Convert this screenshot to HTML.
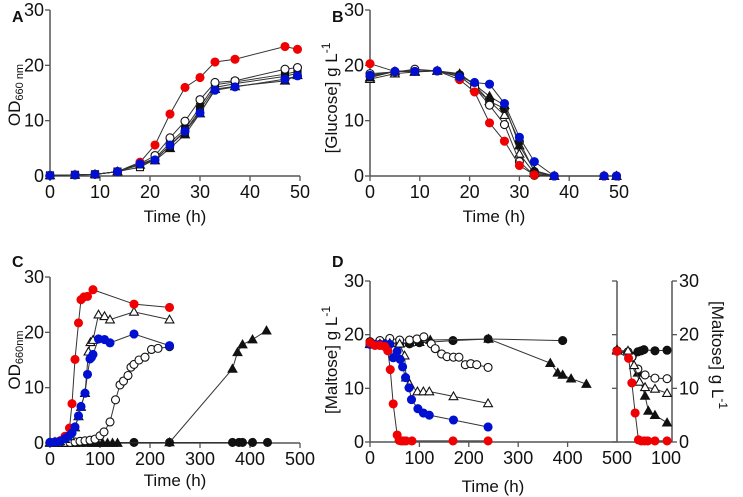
<!DOCTYPE html>
<html><head><meta charset="utf-8">
<style>
html,body{margin:0;padding:0;background:#fff;}
svg{display:block;font-family:"Liberation Sans",Arial,sans-serif;}
.tl{font-size:18px;fill:#111;}
.ti{font-size:17px;fill:#111;}
.pl{font-size:16px;font-weight:bold;fill:#111;}
</style></head>
<body>
<svg id="chart" width="743" height="497" viewBox="0 0 743 497" xmlns="http://www.w3.org/2000/svg"></svg>
<script>
// ---------- Panel A data (OD vs time, h) ----------
const aTimes = [0,5,9,13.5,18,21,24,27,30,33,37,47,49.5];
const aRed   = [0.1,0.2,0.3,0.8,2.5,5.6,11.2,16,17.8,20.6,21.1,23.4,22.9];
const aOpenC = [0.1,0.2,0.3,0.8,2.2,3.7,6.9,9.9,13.8,16.9,17.2,19.3,19.6];
const aFillS = [0.1,0.2,0.3,0.8,2.1,3.2,6.0,8.5,12.5,16.5,17.0,18.4,18.9];
const aOpenS = [0.1,0.2,0.3,0.8,1.6,3.0,5.5,8.0,12.0,16.0,16.7,18.0,18.6];
const aFillT = [0.1,0.2,0.3,0.8,2.0,2.8,5.0,7.5,11.3,15.7,16.2,17.2,18.2];
const aBlue  = [0.1,0.2,0.3,0.8,2.2,2.9,5.6,8.1,11.4,15.5,16.1,17.5,18.1];
// ---------- Panel B data (glucose g/L) ----------
const bTimes = [0,5,9,13.5,18,21,24,27,30,33,37,47,49.5];
const bRed   = [20.3,18.9,18.9,19.0,17.4,15.2,9.6,6.3,1.9,0.2,0,0,0];
const bOpenC = [18.5,18.8,19.3,19.0,18.0,16.0,12.8,9.3,2.6,0.1,0,0,0];
const bFillC = [18.0,18.9,19.0,19.0,18.3,16.5,13.5,12.2,6.2,0.8,0,0,0];
const bFillT = [17.8,18.9,18.9,19.0,18.5,16.5,14.4,12.8,5.5,1.0,0,0,0];
const bOpenT = [17.5,18.5,18.8,19.0,18.0,16.0,13.5,11.0,4.0,0.5,0,0,0];
const bBlue  = [18.2,18.9,18.9,19.0,17.9,16.9,16.6,13.1,7.0,2.6,0,0,0];
// ---------- Panel C data (OD, long time) ----------
const cRedT  = [0,10,20,30,39,44,50,57,62,68,75,86,168,239];
const cRedV  = [0.1,0.2,0.4,1.2,2.7,7.1,15.1,21.7,25.9,26.4,26.5,27.7,25.1,24.5];
const cBlueT = [0,10,20,30,37,44,50,57,62,70,75,80,83,86,97,109,120,168,239];
const cBlueV = [0.1,0.2,0.3,0.8,1.2,1.8,2.9,4.9,6.6,9.0,12.4,15.2,15.5,16.0,18.8,18.7,18.1,19.7,17.6];
const cOTriT = [0,10,20,30,40,50,57,62,70,77,81,86,97,109,120,168,239];
const cOTriV = [0.1,0.2,0.3,0.7,1.2,2.8,4.8,6.5,9.0,16.5,18.2,18.6,23.2,22.9,22.3,23.7,22.3];
const cOCirT = [0,10,20,30,40,50,60,70,80,90,100,108,120,131,140,147,156,162,168,178,190,203,216,239];
const cOCirV = [0.1,0.1,0.1,0.1,0.1,0.2,0.3,0.4,0.5,0.7,1.3,2.0,3.8,7.8,10.5,11.2,12.2,13.7,14.2,15.0,15.5,16.9,17.1,17.4];
const cFTriT = [0,10,20,30,40,50,60,75,85,95,105,115,125,135,239,365,375,385,405,433];
const cFTriV = [0,0,0,0,0,0,0,0,0,0,0,0,0,0,0.1,13.4,16.4,17.8,18.7,20.3];
const cFCirT = [0,10,20,30,40,50,168,239,365,378,385,405,435];
const cFCirV = [0.1,0.1,0.1,0.1,0.1,0.1,0.1,0.1,0.1,0.1,0.1,0.1,0.1];
// ---------- Panel D data (maltose g/L) ----------
const dRedT  = [0,10,20,30,36,41,47,55,59,63,68,73,85,168,239];
const dRedV  = [18.5,18.0,18.0,17.8,17.0,13.5,7.1,1.3,0.3,0.2,0.2,0.2,0.2,0.2,0.2];
const dBlueT = [0,10,20,30,40,47,55,61,66,72,79,84,97,108,120,169,239];
const dBlueV = [18.2,18.2,18.2,18.2,18.2,15.7,16.9,15.4,14.0,12.0,10.1,7.9,6.2,5.4,5.0,4.1,2.8];
const dOTriT = [0,20,40,60,70,73,80,96,108,120,169,239];
const dOTriV = [18.2,18.3,18.4,18.3,16.1,12.0,10.8,9.4,9.4,9.4,8.5,7.2];
const dOCirT = [0,20,40,60,80,95,109,124,132,145,156,169,180,193,204,216,239];
const dOCirV = [18.7,18.9,19.3,19.0,19.0,19.2,19.6,18.3,17.4,16.4,15.9,15.8,15.8,14.4,14.6,14.4,13.9];
const dFTriT = [0,20,40,60,80,100,122,240,365,380,390,407,438];
const dFTriV = [18.3,18.4,18.5,18.4,18.5,18.6,19.0,19.2,14.7,12.9,12.5,11.8,10.8];
const dFCirT = [0,20,40,60,80,100,168,239,390];
const dFCirV = [18.3,18.3,18.3,18.3,18.3,18.5,18.9,19.2,18.9];
// ---------- Panel D inset (0-100 h) ----------
const eRedT  = [0,21,27,33,39,44,50,56,69,91];
const eRedV  = [16.9,15.6,11.0,5.4,0.4,0.2,0.2,0.2,0.2,0.2];
const eOCirT = [0,20,27,38,51,69,91];
const eOCirV = [17.0,16.8,15.8,13.6,12.5,11.9,11.8];
const eOTriT = [0,20,31,41,51,69,91];
const eOTriV = [17.0,17.0,14.3,11.2,10.2,9.9,9.1];
const eFTriT = [0,25,38,51,57,69,91];
const eFTriV = [17.2,16.0,12.9,8.6,5.8,5.0,3.6];
const eFCirT = [0,28,38,44,49,69,91];
const eFCirV = [17.0,16.0,16.8,17.0,17.2,17.0,17.1];

const NS = "http://www.w3.org/2000/svg";
const svg = document.getElementById('chart');
function mk(tag, attrs, parent){
  const e = document.createElementNS(NS, tag);
  for (const k in attrs) e.setAttribute(k, attrs[k]);
  (parent||svg).appendChild(e);
  return e;
}
const RED="#f00000", BLUE="#0010d0", AX="#555";

function scale(d0,d1,p0,p1){ return v => p0 + (v-d0)*(p1-p0)/(d1-d0); }

function marker(g, kind, color, x, y){
  let e;
  const r=4;
  if (kind==='fc' || kind==='oc'){
    e = mk('circle',{cx:x,cy:y,r:r,fill:kind==='fc'?color:'#fff',stroke:kind==='fc'?color:'#111','stroke-width':1.1},g);
  } else if (kind==='ft' || kind==='ot'){
    const s=4.4;
    e = mk('polygon',{points:`${x},${y-s} ${x-s},${y+s*0.75} ${x+s},${y+s*0.75}`,fill:kind==='ft'?'#111':'#fff',stroke:'#111','stroke-width':1.1},g);
  } else {
    const s=3.5;
    e = mk('rect',{x:x-s,y:y-s,width:2*s,height:2*s,fill:kind==='fs'?'#111':'#fff',stroke:'#111','stroke-width':1.1},g);
  }
  
  
}

function series(name, xs, ys, sx, sy, kind, color){
  const g = mk('g',{});
  
  
  const pts = xs.map((t,i)=>sx(t)+','+sy(ys[i])).join(' ');
  const pl = mk('polyline',{points:pts,fill:'none',stroke:'#333','stroke-width':1},g);
  
  
  xs.forEach((t,i)=>marker(g, kind, color||'#111', sx(t), sy(ys[i])));
}

function text(str, x, y, cls, anchor, name, extra){
  const t = mk('text',Object.assign({x:x,y:y,class:cls,'text-anchor':anchor||'middle'},extra||{}));
  t.textContent = str;
  
  
  return t;
}

function axes(prefix, x0,x1,y0,y1, xTicks, xLab, yTicks, yLab, sx, sy){
  const ax = mk('line',{x1:x0,y1:y0,x2:x1,y2:y0,stroke:AX,'stroke-width':1.5});
  
  
  const ay = mk('line',{x1:x0,y1:y0,x2:x0,y2:y1,stroke:AX,'stroke-width':1.5});
  
  
  xTicks.forEach((v,i)=>{
    const x = sx(v);
    mk('line',{x1:x,y1:y0,x2:x,y2:y0+5,stroke:AX,'stroke-width':1.3});
    text(xLab[i], x, y0+22, 'tl', 'middle', prefix+'-x-tick-label');
  });
  yTicks.forEach((v,i)=>{
    const y = sy(v);
    mk('line',{x1:x0-5,y1:y,x2:x0,y2:y,stroke:AX,'stroke-width':1.3});
    text(yLab[i], x0-6, y+6, 'tl', 'end', prefix+'-y-tick-label');
  });
}

const yT=[0,10,20,30], yL=['0','10','20','30'];

// ---- Panel A ----
{
  const sx=scale(0,50,50,300), sy=scale(0,30,176,10);
  axes('panel-a',50,300,176,10,[0,10,20,30,40,50],['0','10','20','30','40','50'],yT,yL,sx,sy);
  series('a-black-triangle',aTimes,aFillT,sx,sy,'ft');
  series('a-open-square',aTimes,aOpenS,sx,sy,'os');
  series('a-black-square',aTimes,aFillS,sx,sy,'fs');
  series('a-open-circle',aTimes,aOpenC,sx,sy,'oc');
  series('a-red',aTimes,aRed,sx,sy,'fc',RED);
  series('a-blue',aTimes,aBlue,sx,sy,'fc',BLUE);
  text('A',12,22,'pl','start','panel-a-letter');
  text('Time (h)',175,222,'ti','middle','panel-a-x-title');
  const t=text('',0,0,'ti','middle','panel-a-y-title',{transform:'translate(20,95) rotate(-90)'});
  t.innerHTML='OD<tspan font-size="11" dy="3">660 nm</tspan>';
}
// ---- Panel B ----
{
  const sx=scale(0,50,370,619), sy=scale(0,30,176,10);
  axes('panel-b',370,619,176,10,[0,10,20,30,40,50],['0','10','20','30','40','50'],yT,yL,sx,sy);
  series('b-open-triangle',bTimes,bOpenT,sx,sy,'ot');
  series('b-black-triangle',bTimes,bFillT,sx,sy,'ft');
  series('b-black-circle',bTimes,bFillC,sx,sy,'fc','#111');
  series('b-open-circle',bTimes,bOpenC,sx,sy,'oc');
  series('b-red',bTimes,bRed,sx,sy,'fc',RED);
  series('b-blue',bTimes,bBlue,sx,sy,'fc',BLUE);
  text('B',332,22,'pl','start','panel-b-letter');
  text('Time (h)',494,222,'ti','middle','panel-b-x-title');
  const t=text('',0,0,'ti','middle','panel-b-y-title',{transform:'translate(337,98) rotate(-90)'});
  t.innerHTML='[Glucose] g L<tspan font-size="12" dy="-7">-1</tspan>';
}
// ---- Panel C ----
{
  const sx=scale(0,500,50,300), sy=scale(0,30,443,277);
  axes('panel-c',50,300,443,277,[0,100,200,300,400,500],['0','100','200','300','400','500'],yT,yL,sx,sy);
  series('c-black-circle',cFCirT,cFCirV,sx,sy,'fc','#111');
  series('c-black-triangle',cFTriT,cFTriV,sx,sy,'ft');
  series('c-open-circle',cOCirT,cOCirV,sx,sy,'oc');
  series('c-open-triangle',cOTriT,cOTriV,sx,sy,'ot');
  series('c-red',cRedT,cRedV,sx,sy,'fc',RED);
  series('c-blue',cBlueT,cBlueV,sx,sy,'fc',BLUE);
  text('C',12,267,'pl','start','panel-c-letter');
  text('Time (h)',175,486,'ti','middle','panel-c-x-title');
  const t=text('',0,0,'ti','middle','panel-c-y-title',{transform:'translate(20,360) rotate(-90)'});
  t.innerHTML='OD<tspan font-size="11" dy="3">660nm</tspan>';
}
// ---- Panel D ----
{
  const sx=scale(0,500,370,617), sy=scale(0,30,442,281);
  axes('panel-d',370,672,442,281,[0,100,200,300,400],['0','100','200','300','400'],yT,yL,sx,sy);
  text('500',617,464,'tl','middle','panel-d-x-tick-label');
  text('100',666,464,'tl','middle','panel-d-inset-x-tick-label');
  const ia = mk('line',{x1:617,y1:442,x2:617,y2:281,stroke:AX,'stroke-width':1.5});
  
  
  const ra = mk('line',{x1:672,y1:442,x2:672,y2:281,stroke:AX,'stroke-width':1.5});
  
  
  yT.forEach((v,i)=>{
    const y=sy(v);
    mk('line',{x1:612,y1:y,x2:617,y2:y,stroke:AX,'stroke-width':1.3});
    mk('line',{x1:672,y1:y,x2:677,y2:y,stroke:AX,'stroke-width':1.3});
    text(yL[i],679,y+6,'tl','start','panel-d-right-y-tick-label');
  });
  series('d-black-circle',dFCirT,dFCirV,sx,sy,'fc','#111');
  series('d-black-triangle',dFTriT,dFTriV,sx,sy,'ft');
  series('d-open-circle',dOCirT,dOCirV,sx,sy,'oc');
  series('d-open-triangle',dOTriT,dOTriV,sx,sy,'ot');
  series('d-blue',dBlueT,dBlueV,sx,sy,'fc',BLUE);
  series('d-red',dRedT,dRedV,sx,sy,'fc',RED);
  const ex=scale(0,100,617,672);
  series('d-inset-black-circle',eFCirT,eFCirV,ex,sy,'fc','#111');
  series('d-inset-black-triangle',eFTriT,eFTriV,ex,sy,'ft');
  series('d-inset-open-circle',eOCirT,eOCirV,ex,sy,'oc');
  series('d-inset-open-triangle',eOTriT,eOTriV,ex,sy,'ot');
  series('d-inset-red',eRedT,eRedV,ex,sy,'fc',RED);
  text('D',332,267,'pl','start','panel-d-letter');
  text('Time (h)',493,492,'ti','middle','panel-d-x-title');
  const t=text('',0,0,'ti','middle','panel-d-y-title',{transform:'translate(337,360) rotate(-90)'});
  t.innerHTML='[Maltose] g L<tspan font-size="12" dy="-7">-1</tspan>';
  const t2=text('',0,0,'ti','middle','panel-d-right-y-title',{transform:'translate(712,355) rotate(90)'});
  t2.innerHTML='[Maltose] g L<tspan font-size="12" dy="-7">-1</tspan>';
}
</script>
</body></html>
